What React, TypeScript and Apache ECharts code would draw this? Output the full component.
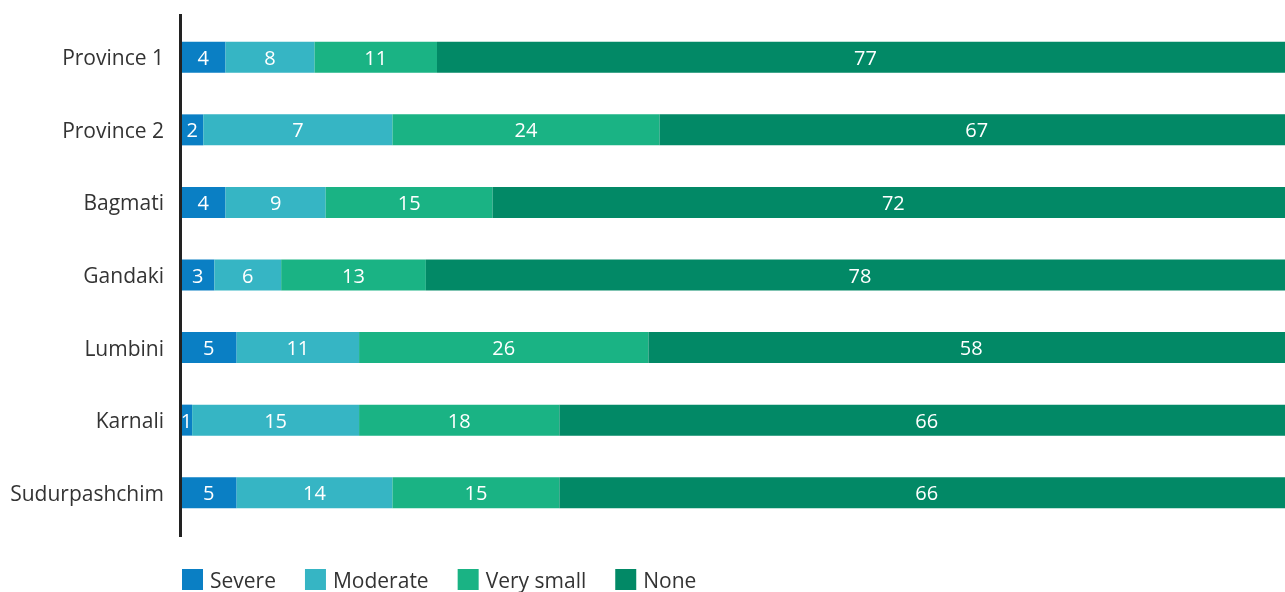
import React, { useEffect, useRef } from "react";
import * as echarts from "echarts";

const categories = ["Province 1", "Province 2", "Bagmati", "Gandaki", "Lumbini", "Karnali", "Sudurpashchim"];
// bar lengths as drawn in the reference
const severe = [4, 2, 4, 3, 5, 1, 5];
const moderate = [8, 17, 9, 6, 11, 15, 14];
const verySmall = [11, 24, 15, 13, 26, 18, 15];
const none = [77, 57, 72, 78, 58, 66, 66];
// labels as printed in the reference
const severeLabels = [4, 2, 4, 3, 5, 1, 5];
const moderateLabels = [8, 7, 9, 6, 11, 15, 14];
const verySmallLabels = [11, 24, 15, 13, 26, 18, 15];
const noneLabels = [77, 67, 72, 78, 58, 66, 66];
const seriesNames = ["Severe", "Moderate", "Very small", "None"];
const colors = ["#0a7fc4", "#36b5c4", "#1ab384", "#028966"];

export default function App() {
  const ref = useRef<HTMLDivElement>(null);
  useEffect(() => {
    const chart = echarts.init(ref.current!, null, { renderer: "svg" });
    const data = [severe, moderate, verySmall, none];
    const labels = [severeLabels, moderateLabels, verySmallLabels, noneLabels];
    chart.setOption({
      animation: false,
      textStyle: { fontFamily: "Open Sans" },
      grid: { left: 181, width: 1113, top: 21, height: 508, outerBoundsMode: "none", containLabel: false },
      xAxis: { type: "value", min: 0, max: 100, show: false },
      yAxis: {
        type: "category",
        data: categories,
        inverse: true,
        axisLine: { show: false },
        axisTick: { show: false },
        axisLabel: { color: "#333", fontSize: 21, margin: 17, fontFamily: "Open Sans" },
      },
      legend: {
        left: 182,
        top: 569,
        padding: 0,
        itemWidth: 21,
        itemHeight: 21,
        itemGap: 29,
        icon: "rect",
        textStyle: { fontSize: 21, color: "#333", fontFamily: "Open Sans", padding: [0, 0, 0, 2] },
        data: seriesNames,
      },
      graphic: [
        {
          type: "line",
          shape: { x1: 180.5, y1: 14, x2: 180.5, y2: 537 },
          style: { stroke: "#222", lineWidth: 3 },
          z: 100,
        },
      ],
      series: seriesNames.map((name, i) => ({
        name,
        type: "bar",
        stack: "total",
        barWidth: 31,
        itemStyle: { color: colors[i] },
        label: {
          show: true,
          position: "inside",
          color: "#fff",
          fontSize: 20,
          fontFamily: "Open Sans",
          formatter: (p: any) => String(labels[i][p.dataIndex]),
        },
        data: data[i],
      })),
    });
    return () => chart.dispose();
  }, []);
  return (
    <div
      ref={ref}
      style={{ position: "fixed", left: 0, top: 0, width: 1285, height: 592 }}
    />
  );
}
